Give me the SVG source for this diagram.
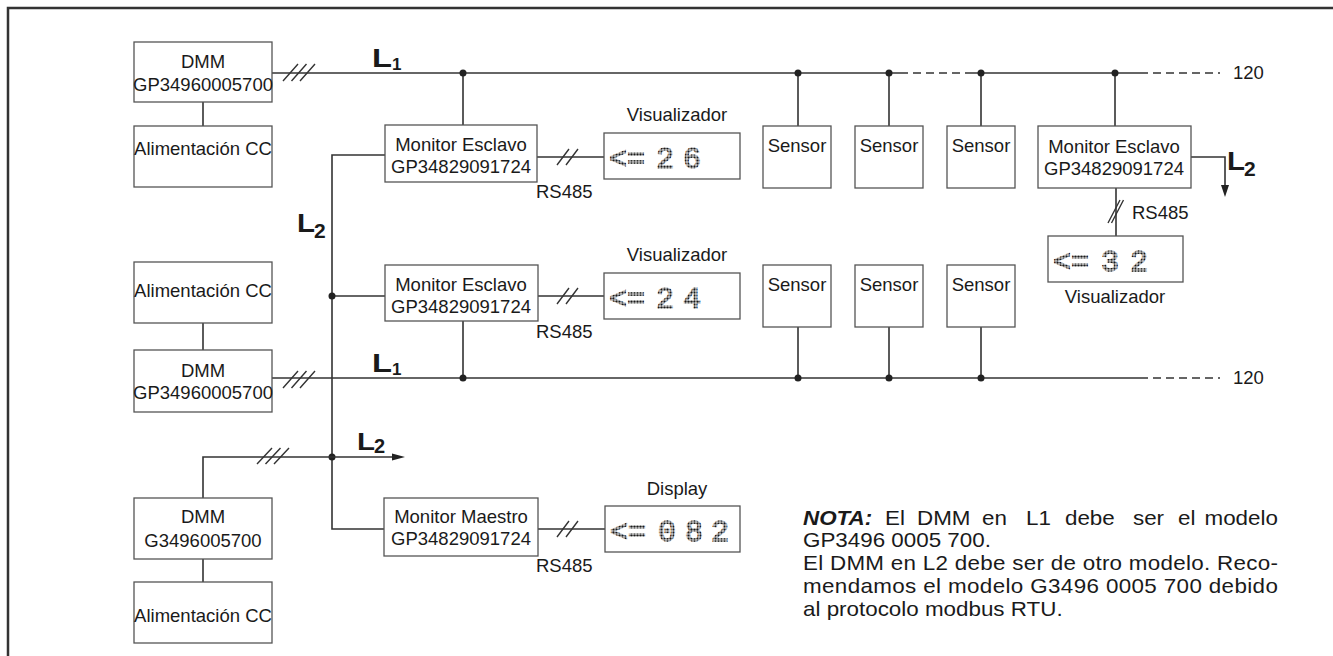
<svg xmlns="http://www.w3.org/2000/svg" width="1333" height="656" viewBox="0 0 1333 656">
<style>
.box{fill:#fff;stroke:#555;stroke-width:1.3}
.ln{fill:none;stroke:#333;stroke-width:1.6}
.dash{stroke-dasharray:8 5}
.sl{fill:none;stroke:#333;stroke-width:1.4}
.t{font-family:"Liberation Sans",Arial,sans-serif;font-size:18.5px;fill:#1a1a1a}
.c{text-anchor:middle}
.L{font-family:"Liberation Sans",Arial,sans-serif;font-weight:bold;fill:#1a1a1a}
.lcd{font-family:"Liberation Mono","DejaVu Sans Mono",monospace;font-size:30px;fill:url(#dots);stroke:url(#dots);stroke-width:1.4}
.dot{fill:#222}
.nota{font-family:"Liberation Sans",Arial,sans-serif;font-size:20px;fill:#1a1a1a}
</style>
<defs>
<pattern id="dots" width="3" height="3" patternUnits="userSpaceOnUse"><rect x="0.5" y="0.5" width="2" height="2" fill="#1a1a1a"/></pattern>
</defs>
<rect width="1333" height="656" fill="#fff"/>
<path d="M8,656 V8 H1333" fill="none" stroke="#333" stroke-width="2.5"/>

<g id="connectors">
  <path class="ln" d="M203,102 V126"/>
  <path class="ln" d="M272,73 H900"/>
  <path class="ln dash" d="M900,73 H967"/>
  <path class="ln" d="M967,73 H1140"/>
  <path class="ln dash" d="M1140,73 H1220"/>
  <path class="ln" d="M463,73 V126 M798,73 V126 M889,73 V126 M981,73 V126 M1115,73 V126"/>
  <circle class="dot" cx="463" cy="73" r="3.5"/>
  <circle class="dot" cx="798" cy="73" r="3.5"/>
  <circle class="dot" cx="889" cy="73" r="3.5"/>
  <circle class="dot" cx="981" cy="73" r="3.5"/>
  <circle class="dot" cx="1115" cy="73" r="3.5"/>
  <path class="sl" d="M283,81 L298,64 M291.5,81 L306.5,64 M300,81 L315,64"/>
  <path class="ln" d="M385,155 H332 V529 H384"/>
  <path class="ln" d="M332,296 H385"/>
  <circle class="dot" cx="332" cy="296" r="3.5"/>
  <circle class="dot" cx="332" cy="457" r="3.5"/>
  <path class="ln" d="M537,157 H604"/>
  <path class="sl" d="M557,165 L569,149 M566,165 L578,149"/>
  <path class="ln" d="M538,296 H604"/>
  <path class="sl" d="M557,304 L569,288 M566,304 L578,288"/>
  <path class="ln" d="M538,529 H605"/>
  <path class="sl" d="M557,537 L569,521 M566,537 L578,521"/>
  <path class="ln" d="M1191,157 H1225 V187"/>
  <polygon class="dot" points="1221,185 1225,197 1229,185"/>
  <path class="ln" d="M1116,188 V236"/>
  <path class="sl" d="M1108,223 L1120,200 M1111.5,223 L1123.5,200"/>
  <path class="ln" d="M272,378 H1140"/>
  <path class="ln dash" d="M1140,378 H1220"/>
  <path class="ln" d="M463,321 V378 M798,327 V378 M889,327 V378 M981,327 V378"/>
  <circle class="dot" cx="463" cy="378" r="3.5"/>
  <circle class="dot" cx="798" cy="378" r="3.5"/>
  <circle class="dot" cx="889" cy="378" r="3.5"/>
  <circle class="dot" cx="981" cy="378" r="3.5"/>
  <path class="sl" d="M283,388 L298,371 M291.5,388 L306.5,371 M300,388 L315,371"/>
  <path class="ln" d="M203,323 V350"/>
  <path class="ln" d="M203,498 V457 H393"/>
  <polygon class="dot" points="392,453.5 405,457 392,460.5"/>
  <path class="sl" d="M257,464 L272,448 M265.5,464 L280.5,448 M274,464 L289,448"/>
  <path class="ln" d="M203,559 V582"/>
  <text class="L" x="372" y="67" font-size="26" textLength="20" lengthAdjust="spacingAndGlyphs">L</text>
  <text class="L" x="392" y="70" font-size="17">1</text>
  <text class="L" x="372" y="372" font-size="26" textLength="20" lengthAdjust="spacingAndGlyphs">L</text>
  <text class="L" x="392" y="375" font-size="17">1</text>
  <text class="L" x="297" y="232" font-size="26" textLength="18" lengthAdjust="spacingAndGlyphs">L</text>
  <text class="L" x="314" y="238" font-size="21">2</text>
  <text class="L" x="357" y="450" font-size="24" textLength="18" lengthAdjust="spacingAndGlyphs">L</text>
  <text class="L" x="374" y="453" font-size="20">2</text>
  <text class="L" x="1227" y="170" font-size="26" textLength="18" lengthAdjust="spacingAndGlyphs">L</text>
  <text class="L" x="1244" y="176" font-size="21">2</text>
  <text class="t" x="1233" y="79">120</text>
  <text class="t" x="1233" y="384">120</text>
  <text class="t" x="536" y="198">RS485</text>
  <text class="t" x="536" y="338">RS485</text>
  <text class="t" x="536" y="572">RS485</text>
  <text class="t" x="1132" y="219">RS485</text>
</g>

<g id="dmm-top">
  <rect class="box" x="134" y="42" width="138" height="60"/>
  <text class="t c" x="203" y="68">DMM</text>
  <text class="t c" x="203" y="91">GP34960005700</text>
</g>
<g id="alim-top">
  <rect class="box" x="134" y="126" width="138" height="61"/>
  <text class="t c" x="203" y="155">Alimentación CC</text>
</g>
<g id="monitor-esclavo-1">
  <rect class="box" x="385" y="125" width="152" height="57"/>
  <text class="t c" x="461" y="151">Monitor Esclavo</text>
  <text class="t c" x="461" y="173">GP34829091724</text>
</g>
<g id="visualizador-1">
  <text class="t c" x="677" y="121">Visualizador</text>
  <rect class="box" x="604" y="133" width="136" height="46"/>
  <text class="lcd" x="609 627 641 656 683" y="168">&lt;= 26</text>
</g>
<g id="sensor-t1"><rect class="box" x="763" y="126" width="68" height="62"/><text class="t c" x="797" y="152">Sensor</text></g>
<g id="sensor-t2"><rect class="box" x="855" y="126" width="68" height="62"/><text class="t c" x="889" y="152">Sensor</text></g>
<g id="sensor-t3"><rect class="box" x="947" y="126" width="68" height="62"/><text class="t c" x="981" y="152">Sensor</text></g>
<g id="monitor-esclavo-3">
  <rect class="box" x="1038" y="126" width="153" height="62"/>
  <text class="t c" x="1114" y="153">Monitor Esclavo</text>
  <text class="t c" x="1114" y="175">GP34829091724</text>
</g>
<g id="visualizador-3">
  <rect class="box" x="1048" y="236" width="135" height="46"/>
  <text class="lcd" x="1053 1071 1085 1101 1130" y="271">&lt;= 32</text>
  <text class="t c" x="1115" y="303">Visualizador</text>
</g>
<g id="alim-mid">
  <rect class="box" x="134" y="262" width="138" height="61"/>
  <text class="t c" x="203" y="297">Alimentación CC</text>
</g>
<g id="monitor-esclavo-2">
  <rect class="box" x="385" y="265" width="153" height="56"/>
  <text class="t c" x="461" y="291">Monitor Esclavo</text>
  <text class="t c" x="461" y="313">GP34829091724</text>
</g>
<g id="visualizador-2">
  <text class="t c" x="677" y="261">Visualizador</text>
  <rect class="box" x="604" y="273" width="136" height="46"/>
  <text class="lcd" x="609 627 641 656 683" y="308">&lt;= 24</text>
</g>
<g id="sensor-b1"><rect class="box" x="763" y="265" width="68" height="62"/><text class="t c" x="797" y="291">Sensor</text></g>
<g id="sensor-b2"><rect class="box" x="855" y="265" width="68" height="62"/><text class="t c" x="889" y="291">Sensor</text></g>
<g id="sensor-b3"><rect class="box" x="947" y="265" width="68" height="62"/><text class="t c" x="981" y="291">Sensor</text></g>
<g id="dmm-mid">
  <rect class="box" x="134" y="350" width="138" height="62"/>
  <text class="t c" x="203" y="377">DMM</text>
  <text class="t c" x="203" y="399">GP34960005700</text>
</g>
<g id="dmm-bottom">
  <rect class="box" x="134" y="498" width="138" height="61"/>
  <text class="t c" x="203" y="523">DMM</text>
  <text class="t c" x="203" y="547">G3496005700</text>
</g>
<g id="alim-bottom">
  <rect class="box" x="134" y="582" width="138" height="61"/>
  <text class="t c" x="203" y="622">Alimentación CC</text>
</g>
<g id="monitor-maestro">
  <rect class="box" x="384" y="498" width="154" height="58"/>
  <text class="t c" x="461" y="523">Monitor Maestro</text>
  <text class="t c" x="461" y="545">GP34829091724</text>
</g>
<g id="display">
  <text class="t c" x="677" y="495">Display</text>
  <rect class="box" x="605" y="506" width="135" height="46"/>
  <text class="lcd" x="610 628 642 658 685 711" y="541">&lt;= 082</text>
</g>
<g id="nota" transform="matrix(1.12,0,0,1,-96.36,0)">
  <text class="nota" y="525"><tspan x="803" font-weight="bold" font-style="italic">NOTA:</tspan><tspan x="876.2">El</tspan><tspan x="904.8">DMM</tspan><tspan x="962.8">en</tspan><tspan x="1002.1">L1</tspan><tspan x="1036.9">debe</tspan><tspan x="1097.6">ser</tspan><tspan x="1137.8">el</tspan><tspan x="1161.5">modelo</tspan></text>
  <text class="nota" x="803" y="547">GP3496 0005 700.</text>
  <text class="nota" x="803" y="570" textLength="424" lengthAdjust="spacing">El DMM en L2 debe ser de otro modelo. Reco-</text>
  <text class="nota" x="803" y="593" textLength="424" lengthAdjust="spacing">mendamos el modelo G3496 0005 700 debido</text>
  <text class="nota" x="803" y="616">al protocolo modbus RTU.</text>
</g>
</svg>
